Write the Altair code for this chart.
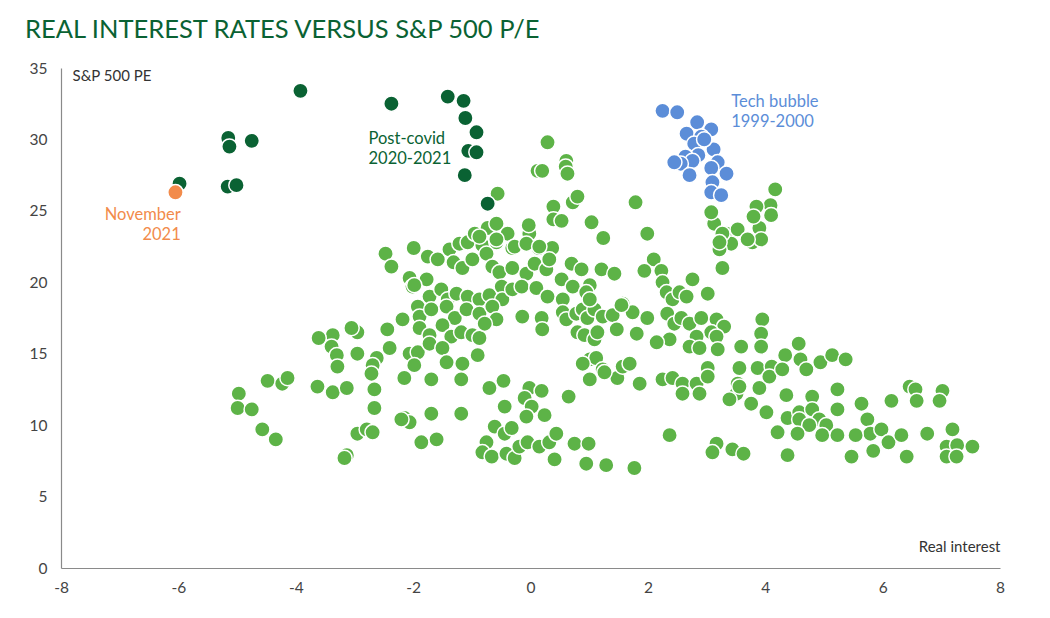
import altair as alt
import pandas as pd

# ---- data ----
other_points = [
    (0.29,29.8),(0.12,27.8),(0.2,27.8),(0.61,28.5),(0.6,28.1),(0.63,27.6),(-0.56,26.2),(0.39,25.3),(0.72,25.6),(0.8,26.0),
    (0.39,24.4),(0.53,24.3),(1.79,25.6),(1.04,24.2),(1.24,23.1),(1.99,23.4),(2.10,21.6),(1.94,20.8),(2.23,20.8),(-2.47,22.0),
    (-2.37,21.1),(-1.99,22.4),(-1.75,21.8),(-1.58,21.6),(-1.38,22.3),(-1.31,21.4),(-1.21,22.7),(-1.07,22.8),(-0.95,23.4),(-0.73,23.8),
    (-0.58,24.1),(-0.39,23.4),(-0.82,22.6),(-0.58,22.8),(-0.31,22.4),(-0.02,23.4),(-0.03,24.0),(0.14,22.4),(0.37,22.4),(1.21,20.9),
    (1.43,20.6),
    (-0.87,23.2),(-0.58,23.0),(-0.27,22.5),(-0.07,22.7),(0.15,22.5),(-1.16,21.0),(-0.99,21.6),(-0.75,22.0),(-0.65,21.1),
    (-0.53,20.7),(-0.31,21.0),(-0.07,20.6),(0.07,21.3),(0.27,20.9),(0.32,21.6),(0.53,20.2),(0.70,21.3),(0.87,20.9),(1.01,19.8),
    (2.25,20.0),(2.32,19.3),(2.42,18.8),(2.33,17.8),(2.45,17.1),(2.37,16.0),(2.15,15.8),
    (-2.06,20.3),(-2.01,19.7),(-1.77,20.2),(-1.72,19.0),(-1.52,19.5),(-1.41,18.8),(-1.26,19.2),(-1.07,19.0),(-0.87,18.8),(-0.70,19.1),
    (-0.49,19.7),(-0.48,18.8),(-0.31,19.5),(-0.15,19.7),(0.10,19.6),(0.29,19.0),(0.55,18.8),(0.72,19.7),(0.95,19.3),
    (-1.92,18.3),(-1.89,17.6),(-1.69,18.1),(-1.43,18.3),(-1.29,17.5),(-1.09,18.1),(-0.87,17.8),(-0.65,18.3),(-0.58,17.4),(-0.14,17.6),
    (0.19,17.5),(0.20,16.7),(0.55,17.9),(0.61,17.4),(0.78,17.8),(0.89,18.1),(0.97,17.5),(1.09,18.1),(1.23,17.6),(1.40,17.7),
    (1.57,18.5),(1.74,17.9),(1.99,17.5),(0.80,16.5),(0.92,16.3),(1.09,16.0),(1.14,16.5),(1.47,16.7),(1.81,16.4),
    (-2.18,17.4),(-2.44,16.7),(-1.89,16.8),(-1.72,16.3),(-1.50,17.0),(-1.35,16.2),(-1.18,16.5),(-0.99,16.3),(-0.87,16.1),(-0.78,17.1),
    (-2.95,16.5),(-3.05,16.8),(-3.37,16.3),(-3.61,16.1),(-3.39,15.5),(-3.30,14.9),(-3.29,14.1),(-2.95,15.0),(-2.62,14.7),(-2.69,14.2),
    (-2.71,13.6),(-2.40,15.4),(-2.06,15.0),(-1.92,15.1),(-1.98,14.2),(-1.72,15.7),(-1.50,15.4),(-1.43,14.4),(-1.16,14.3),(-0.90,14.9),
    (-2.15,13.3),(-1.69,13.2),(-1.18,13.2),(-3.63,12.7),(-3.37,12.3),(-3.13,12.6),(-2.66,12.5),(-2.66,11.2),(-2.15,10.5),(-2.06,10.2),
    (-1.69,10.8),(-1.18,10.8),(-2.95,9.4),(-2.79,9.7),(-2.69,9.5),(-3.13,7.9),(-3.17,7.7),(-1.86,8.8),(-1.60,9.0),(-2.2,10.4),
    (-1.98,19.8),
    (1.01,14.6),(1.12,14.7),(0.89,14.3),(1.23,13.9),(1.01,13.2),(1.48,13.3),(1.57,14.1),(1.69,14.3),(1.86,12.9),(2.25,13.2),
    (2.42,13.3),(2.37,9.3),(0.65,12.0),
    (-0.70,12.6),(-0.46,13.1),(-0.02,12.6),(0.19,12.4),(-0.10,11.9),(0.02,11.3),(-0.44,11.3),(0.24,10.7),(-0.07,10.6),
    (-0.61,9.9),(-0.44,9.4),(-0.32,9.8),(-0.75,8.8),(-0.82,8.1),(-0.66,7.8),(-0.41,8.0),(-0.27,7.7),(-0.19,8.5),(-0.05,8.8),
    (0.15,8.5),(0.32,8.8),(0.44,9.4),(0.75,8.7),(0.99,8.7),(0.41,7.6),(0.95,7.3),(1.29,7.2),(1.77,7.0),
    (3.13,24.1),(3.34,23.4),(3.53,23.7),(3.90,23.8),(3.42,22.7),(3.22,22.3),(3.78,22.8),(3.93,23.0),(3.27,21.0),(2.76,20.2),
    (3.02,19.2),(2.54,19.3),(2.66,19.0),(1.01,18.8),(1.55,18.4),(2.57,17.5),(2.71,17.1),(2.91,17.5),(3.17,17.4),(3.30,16.9),
    (3.08,16.5),(2.83,16.2),(3.17,16.2),(2.71,15.5),(2.88,15.4),(3.19,15.3),(3.95,17.4),(3.93,16.4),(3.93,15.5),(3.59,15.5),
    (1.26,13.7),(2.59,12.9),(2.59,12.2),(2.83,12.9),(3.02,14.0),(3.02,13.4),(3.56,14.0),(3.87,14.0),(4.11,14.1),(3.53,12.9),
    (3.90,12.6),(4.07,13.4),(3.51,12.2),(2.88,12.2),
    (4.17,26.5),(4.09,25.4),(3.85,25.3),(4.10,24.7),(3.80,24.6),(3.08,24.9),(3.27,23.4),(3.22,22.8),(3.70,23.0),
    (4.57,15.7),(4.34,14.9),(4.60,14.6),(4.70,13.9),(4.29,13.9),(3.56,12.7),(3.76,11.5),(3.39,11.8),(4.02,10.9),(4.21,9.5),
    (4.36,12.1),(4.38,10.5),(4.58,10.9),(4.80,12.0),(4.80,11.1),(4.92,10.4),(5.04,10.0),(4.97,9.3),(5.23,11.1),(5.23,12.5),
    (5.23,9.3),(4.94,14.4),(5.14,14.9),(5.37,14.6),(4.58,10.4),(4.75,10.0),(4.55,9.4),(4.38,7.9),(5.64,11.5),(5.74,10.4),
    (5.79,9.4),(5.54,9.3),(5.98,9.7),(6.10,8.8),(6.32,9.3),(5.84,8.2),(5.47,7.8),(6.41,7.8),(6.15,11.7),(6.46,12.7),
    (6.56,12.5),(6.58,11.7),(7.02,12.4),(6.97,11.7),(6.76,9.4),(7.19,9.7),(7.09,8.5),(7.27,8.6),(7.53,8.5),(7.09,7.8),
    (7.26,7.8),(3.17,8.7),(3.10,8.1),(3.44,8.3),(3.63,8.0),
    (-4.48,13.1),(-4.23,12.9),(-4.14,13.3),(-4.97,12.2),(-4.99,11.2),(-4.75,11.1),(-4.57,9.7),(-4.34,9.0),
]

tech_bubble_points = [
    (2.25,32.0),(2.50,31.9),(2.84,31.2),(3.08,30.7),(2.66,30.4),(2.91,30.2),(2.79,29.7),(3.12,29.3),(2.86,28.9),(2.64,28.8),
    (2.76,28.5),(2.56,28.3),(3.19,28.4),(3.08,28.0),(3.34,27.6),(2.71,27.5),(3.10,27.0),(3.08,26.3),(3.25,26.1),(2.96,30.0),
    (2.45,28.4),
]

post_covid_points = [
    (-5.98,26.9),(-5.16,26.7),(-5.01,26.8),(-5.15,30.1),(-5.13,29.5),(-4.75,29.9),(-3.92,33.4),
    (-2.37,32.5),(-1.41,33.0),(-1.14,32.7),(-1.11,31.5),(-0.92,30.5),(-1.06,29.2),(-0.92,29.1),(-1.12,27.5),(-0.73,25.5),
]

november_2021_points = [(-6.05,26.3)]

groups = ["Other", "Tech bubble", "Post-covid", "November 2021"]
group_colors = ["#5DB347", "#5B8DD8", "#0A6233", "#F28B4B"]

annot_text = ["Post-covid\n2020-2021", "Tech bubble\n1999-2000", "November\n2021"]
annot_x = [-2.76, 3.42, -5.96]
annot_y = [30.0, 32.6, 24.7]
annot_align = ["left", "left", "right"]
annot_group = ["Post-covid", "Tech bubble", "November 2021"]

x_ticks = [-8, -6, -4, -2, 0, 2, 4, 6, 8]
y_ticks = [0, 5, 10, 15, 20, 25, 30, 35]

# ---- build tables ----
rows = []
for g, pts in zip(groups, [other_points, tech_bubble_points, post_covid_points, november_2021_points]):
    for x, y in pts:
        rows.append({"rate": x, "pe": y, "group": g})
df = pd.DataFrame(rows)
df["order"] = range(len(df))

ann = pd.DataFrame({"text": annot_text, "rate": annot_x, "pe": annot_y,
                    "align": annot_align, "group": annot_group})

FONT = "Lato"
color_scale = alt.Scale(domain=groups, range=group_colors)

x_enc = alt.X("rate:Q", scale=alt.Scale(domain=[-8, 8], nice=False),
              axis=alt.Axis(values=x_ticks, title="Real interest", titleX=939, titleY=-22,
                            titleAlign="right", titleBaseline="middle", labelPadding=12,
                            labelFlush=False, labelExpr="toString(datum.value)"))
y_enc = alt.Y("pe:Q", scale=alt.Scale(domain=[0, 35], nice=False),
              axis=alt.Axis(values=y_ticks, title="S&P 500 PE", titleAngle=0, titleX=11, titleY=7,
                            titleAlign="left", titleBaseline="middle", labelPadding=14,
                            labelFlush=False, labelExpr="toString(datum.value)"))

points = alt.Chart(df).mark_circle(size=235, opacity=1, stroke="white", strokeWidth=1.5).encode(
    x=x_enc, y=y_enc,
    color=alt.Color("group:N", scale=color_scale, legend=None),
    order=alt.Order("order:Q"),
)

def ann_layer(align):
    sub = ann[ann["align"] == align]
    return alt.Chart(sub).mark_text(align=align, baseline="middle", fontSize=16.5, font=FONT,
                                    lineBreak="\n", lineHeight=20).encode(
        x="rate:Q", y="pe:Q", text="text:N",
        color=alt.Color("group:N", scale=color_scale, legend=None),
    )

chart = alt.layer(points, ann_layer("left"), ann_layer("right")).properties(
    width=939, height=500,
    autosize=alt.AutoSizeParams(type="none"),
    padding={"left": 61, "top": 68, "right": 50, "bottom": 50},
    title=alt.TitleParams("REAL INTEREST RATES VERSUS S&P 500 P/E", anchor="start", frame="group",
                          dx=-36, offset=18, fontSize=25.5, font=FONT, fontWeight="normal", color="#0A6233"),
).configure_view(stroke=None).configure_axis(
    grid=False, ticks=False, domainColor="#8a8a8a", domainWidth=1.2,
    labelFont=FONT, labelFontSize=15.5, labelColor="#444444",
    titleFont=FONT, titleFontSize=15, titleFontWeight="normal", titleColor="#333333",
)

chart.save("out.html", embed_options={"renderer": "svg", "actions": False})
